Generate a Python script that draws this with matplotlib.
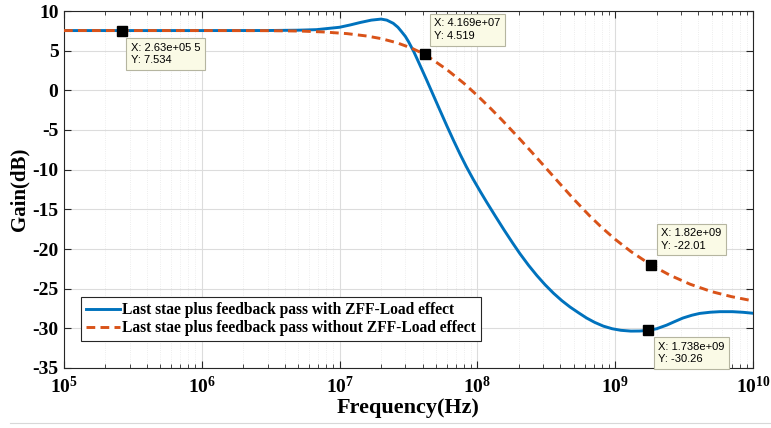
import numpy as np
import matplotlib
matplotlib.use("Agg")
import matplotlib.pyplot as plt
from matplotlib.lines import Line2D
from matplotlib.ticker import FixedLocator, FixedFormatter, LogLocator, NullFormatter

# ---- data ----
freq_with = [1e5, 2.63e5, 1e6, 3e6, 5e6, 6.8e6, 1e7, 1.2e7, 1.41e7, 1.7e7, 2.0e7, 2.2e7,
             2.45e7, 2.65e7, 2.8e7, 3.0e7, 3.16e7, 3.45e7, 3.8e7, 4.27e7, 4.8e7, 5.3e7,
             6e7, 6.7e7, 7.5e7, 8.3e7, 9.3e7, 1.05e8, 1.17e8, 1.35e8, 1.56e8, 1.8e8,
             2.03e8, 2.35e8, 2.7e8, 3.1e8, 3.57e8, 4.1e8, 4.7e8, 5.4e8, 6.2e8, 7.1e8,
             8.2e8, 9.5e8, 1.1e9, 1.3e9, 1.5e9, 1.738e9, 2.0e9, 2.36e9, 2.7e9, 3.1e9,
             3.6e9, 4.1e9, 4.9e9, 5.75e9, 7.1e9, 8.5e9, 1e10]
gain_with = [7.534, 7.534, 7.534, 7.54, 7.58, 7.65, 7.95, 8.25, 8.55, 8.85, 8.98, 8.85,
             8.45, 7.95, 7.45, 6.8, 6.15, 4.9, 3.3, 1.35, -0.66, -2.36,
             -4.47, -6.29, -8.08, -9.6, -11.18, -12.76, -14.12, -15.86, -17.59, -19.23,
             -20.56, -22.05, -23.34, -24.51, -25.58, -26.51, -27.31, -28.02, -28.7, -29.25,
             -29.72, -30.05, -30.25, -30.35, -30.34, -30.26, -30.05, -29.6, -29.15, -28.7,
             -28.35, -28.12, -27.97, -27.9, -27.9, -27.98, -28.1]

freq_without = [1e5, 2.63e5, 1e6, 3e6, 5.2e6, 7.6e6, 1.13e7, 1.57e7, 2.0e7, 2.6e7, 3.3e7,
                4.169e7, 6e7, 8e7, 1e8, 1.25e8, 1.5e8, 2e8, 2.5e8, 3e8, 4e8, 5e8,
                6.5e8, 8e8, 1e9, 1.3e9, 1.82e9, 2.5e9, 3.5e9, 5e9, 7e9, 1e10]
gain_without = [7.534, 7.534, 7.534, 7.52, 7.47, 7.36, 7.15, 6.85, 6.52, 6.0, 5.35,
                4.519, 2.62, 0.87, -0.66, -2.3, -3.7, -6.01, -7.86, -9.4, -11.84, -13.71,
                -15.79, -17.3, -18.78, -20.32, -22.01, -23.31, -24.44, -25.37, -26.01, -26.54]

legend_labels = ["Last stae plus feedback pass with ZFF-Load effect",
                 "Last stae plus feedback pass without ZFF-Load effect"]

# data tips: (x, y, text)
tip_x = [2.63e5, 4.169e7, 1.82e9, 1.738e9]
tip_y = [7.534, 4.519, -22.01, -30.26]
tip_text = ["X: 2.63e+05 5\nY: 7.534", "X: 4.169e+07\nY: 4.519",
            "X: 1.82e+09\nY: -22.01", "X: 1.738e+09\nY: -30.26"]

x_exps = [5, 6, 7, 8, 9, 10]
y_ticks = [10, 5, 0, -5, -10, -15, -20, -25, -30, -35]

# ---- style ----
plt.rcParams['mathtext.fontset'] = 'custom'
plt.rcParams['mathtext.bf'] = 'Liberation Serif:bold'
plt.rcParams['mathtext.rm'] = 'Liberation Serif:bold'
serif = 'Liberation Serif'

fig = plt.figure(figsize=(7.71, 4.28), dpi=100)
ax = fig.add_axes([64/771, 1-368/428, (753-64)/771, (368-11)/428])

blue = '#0072BD'
orange = '#D95319'
ax.plot(freq_with, gain_with, color=blue, lw=2.1, label=legend_labels[0], zorder=3)
ax.plot(freq_without, gain_without, color=orange, lw=2.1, ls=(0, (3.0, 1.8)),
        label=legend_labels[1], zorder=3)

ax.set_xscale('log')
ax.set_xlim(1e5, 1e10)
ax.set_ylim(-35, 10)

ax.xaxis.set_major_locator(FixedLocator([10.0**e for e in x_exps]))
ax.xaxis.set_major_formatter(FixedFormatter([r'$\mathbf{10^{%d}}$' % e for e in x_exps]))
ax.xaxis.set_minor_locator(LogLocator(base=10, subs=np.arange(2, 10)))
ax.xaxis.set_minor_formatter(NullFormatter())
ax.set_yticks(y_ticks)
ax.set_yticklabels([str(v) for v in y_ticks], fontfamily=serif, fontweight='bold', fontsize=14)
for lab in ax.get_xticklabels():
    lab.set_fontsize(14)

ax.tick_params(axis='both', which='both', direction='in', top=True, right=True,
               color='#262626')
ax.tick_params(axis='both', which='major', length=5, width=0.8)
ax.tick_params(axis='x', which='major', pad=6)
ax.tick_params(axis='y', which='major', pad=4)
ax.tick_params(axis='x', which='minor', length=3, width=0.6)

ax.grid(True, which='major', color='#dcdcdc', lw=0.8)
ax.grid(True, which='minor', axis='x', color='#e8e8e8', lw=0.6, ls=':')
ax.set_axisbelow(True)
for s in ax.spines.values():
    s.set_color('#262626')
    s.set_linewidth(0.8)

ax.set_xlabel('Frequency(Hz)', fontfamily=serif, fontweight='bold', fontsize=16, labelpad=0)
ax.set_ylabel('Gain(dB)', fontfamily=serif, fontweight='bold', fontsize=15, labelpad=2)

leg = ax.legend(loc='lower left', bbox_to_anchor=(0.0247, 0.0756), fancybox=False,
                framealpha=1, edgecolor='#262626', handlelength=2.2, handletextpad=0.15,
                borderpad=0.3, labelspacing=0.15, borderaxespad=0,
                prop={'family': serif, 'weight': 'bold', 'size': 11.2})
leg.get_frame().set_linewidth(0.8)

# data tips
offsets = [(6.5, -8.6), (6.5, 26), (7.2, 26.6), (7.2, -8)]
for x, y, t, (dx, dy) in zip(tip_x, tip_y, tip_text, offsets):
    ax.plot([x], [y], marker='s', ms=6.5, color='black', zorder=5)
    ax.annotate(t, (x, y), xytext=(dx, dy), textcoords='offset points',
                ha='left', va='top', fontsize=8, fontfamily='Liberation Sans',
                linespacing=1.35,
                bbox=dict(boxstyle='square,pad=0.4', fc='#FAFAE6', ec='#b5b5a0', lw=0.8),
                zorder=6, annotation_clip=False)

# faint page line at the bottom of the picture
fig.add_artist(Line2D([10/771, 1], [1-423/428, 1-423/428], transform=fig.transFigure,
                      color='#d8d8d8', lw=0.8))

fig.savefig('out.png', dpi=100)
